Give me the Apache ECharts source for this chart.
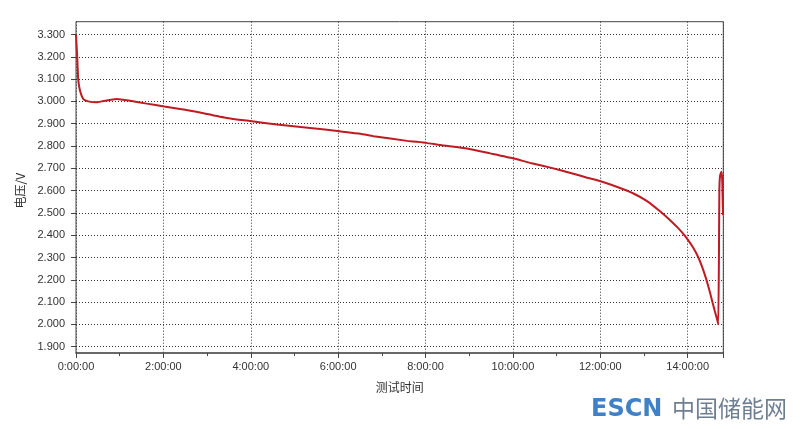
<!DOCTYPE html>
<html>
<head>
<meta charset="utf-8">
<script src="https://cdn.jsdelivr.net/npm/echarts@6/dist/echarts.min.js"></script>
<style>
html,body{margin:0;padding:0;background:#fff;}
#chart{width:800px;height:429px;}
</style>
</head>
<body>
<div id="chart"></div>
<script>
// Test time in hours
const timeHours = [0, 0.03, 0.05, 0.09, 0.17, 0.28, 0.47, 0.63, 0.93, 1.24, 1.62, 2.02, 2.38, 2.69, 3.45, 4.03, 4.60, 5.36, 6.03, 6.51, 6.81, 7.58, 8.02, 8.34, 8.95, 9.48, 10.00, 10.40, 10.86, 11.32, 11.70, 11.99, 12.39, 12.77, 13.07, 13.38, 13.61, 13.76, 13.90, 14.01, 14.12, 14.22, 14.32, 14.41, 14.49, 14.56, 14.62, 14.68, 14.70, 14.715, 14.725, 14.74, 14.77, 14.79, 14.80, 14.81];
// Voltage (V)
const voltage = [3.300, 3.190, 3.100, 3.050, 3.010, 3.000, 2.996, 3.002, 3.011, 3.003, 2.990, 2.977, 2.966, 2.956, 2.926, 2.911, 2.896, 2.881, 2.866, 2.855, 2.844, 2.823, 2.814, 2.804, 2.789, 2.767, 2.745, 2.724, 2.703, 2.679, 2.658, 2.643, 2.616, 2.586, 2.553, 2.505, 2.465, 2.436, 2.406, 2.378, 2.346, 2.310, 2.264, 2.212, 2.158, 2.105, 2.060, 2.018, 2.000, 2.300, 2.600, 2.665, 2.685, 2.650, 2.560, 2.490];
const xMax = 14.815;
const yMin = 1.9, yMax = 3.3, yStep = 0.1;
const xStep = 2;
const yAxisName = '电压/V';
const xAxisName = '测试时间';

const seriesData = timeHours.map((t, i) => [t, voltage[i]]);
const fontFam = '"Liberation Sans", Arial, sans-serif';
const cjkFam = '"Noto Sans CJK SC", sans-serif';
const dotted = {color: '#333', width: 1, type: [1, 2]};

const chart = echarts.init(document.getElementById('chart'));
chart.setOption({
  animation: false,
  backgroundColor: '#fff',
  grid: [
    {left: 76, right: 76.7, top: 21.7, bottom: 76, show: true, borderColor: '#444', borderWidth: 1, backgroundColor: 'transparent'},
    {left: 76, right: 76.7, top: 34.5, bottom: 82.3}
  ],
  xAxis: [
    {
      type: 'value', gridIndex: 0, min: 0, max: xMax, interval: xStep,
      name: xAxisName, nameLocation: 'middle', nameGap: 28,
      nameTextStyle: {fontFamily: cjkFam, fontSize: 12, color: '#333'},
      axisLine: {show: true, lineStyle: {color: '#555', width: 1.5}},
      axisTick: {show: true, inside: false, length: 5, lineStyle: {color: '#444'}},
      minorTick: {show: true, splitNumber: 2, length: 3, lineStyle: {color: '#444'}},
      axisLabel: {
        margin: 8, color: '#333', fontSize: 11, fontFamily: fontFam,
        formatter: v => (Math.abs(v / xStep - Math.round(v / xStep)) < 1e-6) ? (Math.round(v) + ':00:00') : ''
      },
      splitLine: {show: true, lineStyle: dotted}
    },
    {type: 'value', gridIndex: 1, min: 0, max: xMax, show: false}
  ],
  yAxis: [
    {type: 'value', gridIndex: 0, min: 0, max: 1, show: false},
    {
      type: 'value', gridIndex: 1, min: yMin, max: yMax, interval: yStep,
      name: yAxisName, nameLocation: 'middle', nameGap: 47,
      nameTextStyle: {fontFamily: cjkFam, fontSize: 12, color: '#333'},
      axisLine: {show: false},
      axisTick: {show: true, inside: false, length: 5, lineStyle: {color: '#444'}},
      axisLabel: {margin: 11, color: '#333', fontSize: 11, fontFamily: fontFam, formatter: v => v.toFixed(3)},
      splitLine: {show: true, lineStyle: dotted}
    }
  ],
  series: [{
    type: 'line', xAxisIndex: 1, yAxisIndex: 1, data: seriesData,
    showSymbol: false, clip: false, smooth: 0.15,
    lineStyle: {color: '#be1b22', width: 2}
  }],
  graphic: [
    {type: 'text', left: 591, top: 398, style: {text: 'ESCN', fontSize: 24, fontWeight: 'bold', fontFamily: '"DejaVu Sans", sans-serif', fill: '#3f80c6'}},
    {type: 'text', left: 672, top: 397, style: {text: '中国储能网', fontSize: 23, fontFamily: cjkFam, fill: '#6f7f93'}}
  ]
});
</script>
</body>
</html>
